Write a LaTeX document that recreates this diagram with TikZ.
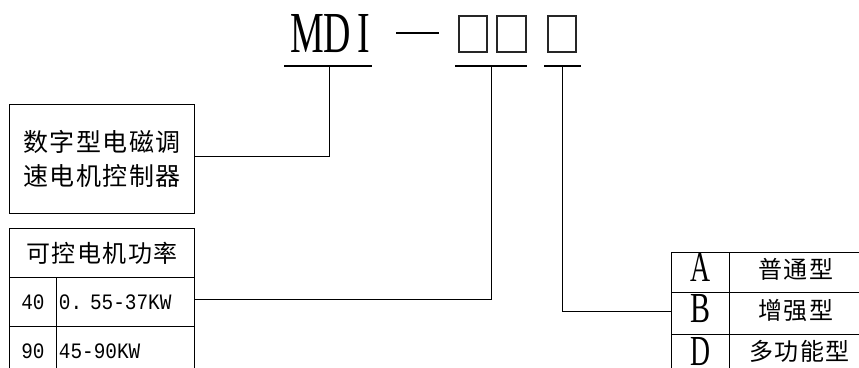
\documentclass[tikz,border=0pt]{standalone}
\usepackage{fontspec}
\usepackage{graphicx}
\newfontfamily\cjk[LetterSpace=6]{Noto Sans CJK SC}
\newfontfamily\lser{Liberation Serif}
\newfontfamily\lmono{Liberation Mono}
\begin{document}
\begin{tikzpicture}[x=1pt,y=-1pt,
  cellbox/.style={draw,line width=0.9pt,inner sep=0pt,anchor=north west},
  sqbox/.style={draw=black!85,line width=1.2pt,minimum width=28pt,minimum height=36pt,inner sep=0pt},
  uline/.style={line width=2pt},
  conn/.style={line width=0.9pt},
  zh/.style={font=\cjk\fontsize{24}{34}\selectfont},
  num/.style={font=\lmono\fontsize{22}{24}\selectfont}
]
\newcommand\numtxt[1]{\scalebox{0.88}[1]{#1}}
\newcommand\lettxt[1]{\raisebox{0pt}[28pt][10pt]{\resizebox{20pt}{28pt}{\lser #1}}}
\newcommand\lettxtflat[1]{\resizebox{20pt}{28pt}{\lser #1}}
\newcommand\zhup[1]{\raisebox{0pt}[\height][\dimexpr\depth+6pt\relax]{#1}}
\useasboundingbox (0,0) rectangle (859,367);
\clip (0,0) rectangle (859,367);
% title
\node[inner sep=0pt] (mdi) at (330,34) {\resizebox{80pt}{38pt}{\lser MD\,I}};
\node[inner sep=0pt] (dash) at (417.5,33) {\rule{43pt}{2pt}};
\node[sqbox] (b1) at (473,34) {};
\node[sqbox,minimum width=29pt] (b2) at (511.5,34) {};
\node[sqbox] (b3) at (562,34) {};
% underlines
\coordinate (u1l) at (284,66); \coordinate (u1r) at (372,66); \coordinate (u1) at (329,66);
\coordinate (u2l) at (455,66); \coordinate (u2r) at (527,66); \coordinate (u2) at (491,66);
\coordinate (u3l) at (544,66); \coordinate (u3r) at (581,66); \coordinate (u3) at (562,66);
\draw[uline] (u1l) -- (u1r);
\draw[uline] (u2l) -- (u2r);
\draw[uline] (u3l) -- (u3r);
% controller box
\node[cellbox,minimum width=185pt,minimum height=109pt,font=\cjk\fontsize{25}{34}\selectfont,align=center] (ctrl) at (9,104) {数字型电磁调\\速电机控制器};
% power table
\node[cellbox,minimum width=185pt,minimum height=49pt,zh] (pwh) at (9,228) {可控电机功率};
\node[cellbox,minimum width=47pt,minimum height=49pt,num] (p1a) at (9,277) {\numtxt{40}};
\node[cellbox,minimum width=138pt,minimum height=49pt,num,text width=133pt,inner xsep=2.5pt,align=left] (p1b) at (56,277) {\numtxt{0.\hspace{9pt}55-37KW}};
\node[cellbox,minimum width=47pt,minimum height=49pt,num] (p2a) at (9,326) {\numtxt{90}};
\node[cellbox,minimum width=138pt,minimum height=49pt,num,text width=133pt,inner xsep=2.5pt,align=left] (p2b) at (56,326) {\numtxt{45-90KW}};
% type table
\node[cellbox,minimum width=58pt,minimum height=40pt] (tA1) at (671,252) {\lettxt{A}};
\node[cellbox,minimum width=133pt,minimum height=40pt,zh] (tA2) at (729,252) {\zhup{普通型}};
\node[cellbox,minimum width=58pt,minimum height=42pt] (tB1) at (671,292) {\lettxt{B}};
\node[cellbox,minimum width=133pt,minimum height=42pt,zh] (tB2) at (729,292) {\zhup{增强型}};
\node[cellbox,minimum width=58pt,minimum height=34pt] (tD1) at (671,334) {\lettxtflat{D}};
\node[cellbox,minimum width=140pt,minimum height=34pt,zh] (tD2) at (729,334) {多功能型};
% connectors
\draw[conn] (u1) |- ([yshift=2.5pt]ctrl.east);
\draw[conn] (u2) |- ([yshift=2.5pt]p1b.east);
\draw[conn] (u3) |- ([yshift=2pt]tB1.west);
\end{tikzpicture}
\end{document}
